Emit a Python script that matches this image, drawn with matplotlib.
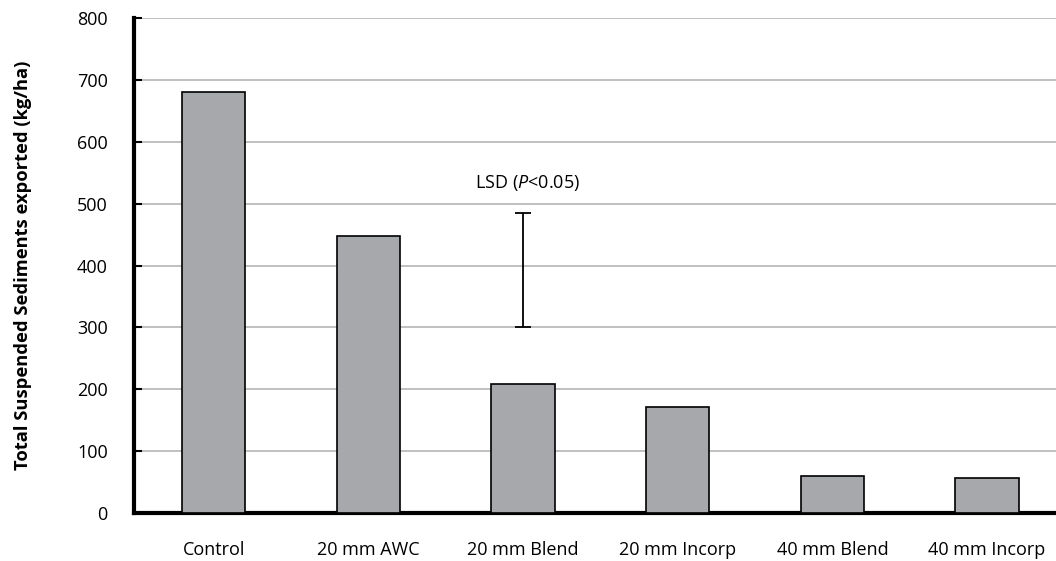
import matplotlib
matplotlib.use('Agg')
from matplotlib import pyplot as plt

plt.rcParams['font.family'] = ['Open Sans', 'DejaVu Sans']
plt.rcParams['mathtext.fontset'] = 'custom'
plt.rcParams['mathtext.it'] = 'Open Sans:italic'
plt.rcParams['mathtext.rm'] = 'Open Sans'

categories = ['Control', '20 mm AWC', '20 mm Blend', '20 mm Incorp', '40 mm Blend', '40 mm Incorp']
sediments = [680, 448, 208, 171, 60, 57]
lsd_low = 300
lsd_high = 485
lsd_position = 2

fig = plt.figure(figsize=(10.56, 5.61), dpi=100)
axes = fig.add_axes([0.127, 0.0856, 0.873, 0.882])

positions = range(len(categories))
axes.bar(positions, sediments, width=0.41, color='#a7a8ac', edgecolor='black', linewidth=1.2, zorder=3)

axes.vlines(lsd_position, lsd_low, lsd_high, color='black', linewidth=1.3, zorder=4)
for y in (lsd_low, lsd_high):
    axes.hlines(y, lsd_position - 0.05, lsd_position + 0.05, color='black', linewidth=1.3, zorder=4)
axes.text(lsd_position + 0.03, lsd_high + 32, 'LSD ($\\mathit{P}$<0.05)', ha='center', va='bottom', fontsize=13)

axes.set_xlim(-0.514, 5.446)
axes.set_ylim(0, 800)
axes.set_yticks(range(0, 801, 100))
axes.set_xticks(list(positions))
axes.set_xticklabels(categories, fontsize=13)
axes.tick_params(axis='x', length=0, pad=20)
axes.tick_params(axis='y', direction='in', length=6, width=1.5, labelsize=13, pad=19)
axes.yaxis.grid(True, color='#b5b5b5', linewidth=1.2, zorder=0)
axes.set_axisbelow(True)

for side in ('top', 'right'):
    axes.spines[side].set_visible(False)
axes.spines['left'].set_linewidth(3)
axes.spines['bottom'].set_linewidth(3)

axes.set_ylabel('Total Suspended Sediments exported (kg/ha)', fontsize=13.2, fontweight='bold', labelpad=32)

fig.savefig('out.png', dpi=100)
plt.close()
